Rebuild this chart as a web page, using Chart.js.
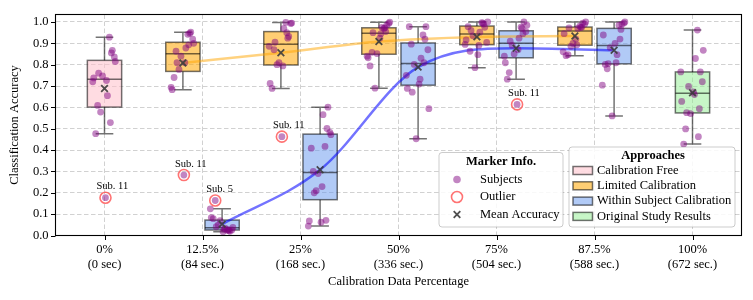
<!DOCTYPE html>
<html>
<head>
<meta charset="utf-8">
<script src="https://cdn.jsdelivr.net/npm/chart.js@4.4.1/dist/chart.umd.min.js"></script>
<style>
  body { margin: 0; background: #fff; }
  canvas { display: block; }
</style>
</head>
<body>
<canvas id="chart" width="753" height="300"></canvas>
<script>
// tick labels
const CATEGORIES = ['0%', '12.5%', '25%', '50%', '75%', '87.5%', '100%'];
const DURATIONS = ['(0 sec)', '(84 sec.)', '(168 sec.)', '(336 sec.)', '(504 sec.)', '(588 sec.)', '(672 sec.)'];
const Y_TICKS = [0, 0.1, 0.2, 0.3, 0.4, 0.5, 0.6, 0.7, 0.8, 0.9, 1.0];

// accuracy per subject (index = subject number - 1)
const CALIB_FREE = [0.929, 0.726, 0.867, 0.738, 0.609, 0.815, 0.578, 0.855, 0.72, 0.655, 0.177, 0.477, 0.836, 0.747, 0.529, 0.76];

const LIMITED_125 = [0.942, 0.809, 0.952, 0.683, 0.863, 0.90, 0.778, 0.947, 0.694, 0.878, 0.283, 0.74, 0.92, 0.84, 0.893, 0.809];
const LIMITED_25 = [0.998, 0.794, 0.932, 0.712, 0.87, 0.995, 0.80, 0.924, 0.886, 0.97, 0.463, 0.689, 0.993, 0.81, 0.95, 0.905];
const LIMITED_50 = [0.97, 0.945, 0.985, 0.832, 0.858, 0.999, 0.69, 0.955, 0.84, 0.975, 0.924, 0.794, 0.993, 0.852, 0.972, 0.95];
const LIMITED_75 = [0.997, 0.89, 0.975, 0.916, 0.863, 1.0, 0.935, 0.99, 0.895, 0.952, 0.847, 0.978, 0.904, 0.786, 0.995, 0.96];
const LIMITED_875 = [0.98, 0.893, 0.995, 0.945, 0.847, 1.0, 0.886, 0.975, 0.86, 0.97, 0.92, 0.842, 0.99, 0.9, 0.975, 0.972];

const WITHIN_125 = [0.025, 0.03, 0.02, 0.084, 0.164, 0.038, 0.05, 0.022, 0.125, 0.035, 0.018, 0.079, 0.026, 0.07, 0.028, 0.041];
const WITHIN_25 = [0.417, 0.229, 0.601, 0.068, 0.30, 0.472, 0.21, 0.501, 0.044, 0.566, 0.062, 0.409, 0.483, 0.29, 0.071, 0.20];
const WITHIN_50 = [0.939, 0.732, 0.978, 0.689, 0.896, 0.594, 0.801, 0.919, 0.75, 0.83, 0.709, 0.978, 0.87, 0.453, 0.809, 0.671];
const WITHIN_75 = [0.976, 0.87, 1.0, 0.809, 0.763, 0.985, 0.89, 0.945, 0.84, 0.924, 0.614, 0.732, 0.955, 0.85, 0.97, 0.91];
const WITHIN_875 = [0.985, 0.809, 0.99, 0.939, 0.781, 1.0, 0.88, 0.965, 0.704, 0.847, 0.9, 0.801, 0.995, 0.56, 0.92, 0.805];

const ORIGINAL = [0.962, 0.66, 0.766, 0.628, 0.499, 0.867, 0.698, 0.594, 0.766, 0.829, 0.672, 0.428, 0.72, 0.571, 0.463, 0.575];

const LIMITED = [LIMITED_125, LIMITED_25, LIMITED_50, LIMITED_75, LIMITED_875];
const WITHIN = [WITHIN_125, WITHIN_25, WITHIN_50, WITHIN_75, WITHIN_875];
const SPLIT_CATS = [1, 2, 3, 4, 5];

// horizontal jitter of the subject dots (x units)
const JITTER = [0.05, 0.02, 0.08, -0.11, -0.07, 0.11, -0.04, 0.07, -0.12, 0.03, 0.01, -0.09, 0.10, -0.02, 0.06, -0.06];

const FONT = '"Liberation Serif", "DejaVu Serif", serif';
const EDGE = 'rgba(0,0,0,0.55)';
const SUBJECT_COLOR = 'rgba(128,0,128,0.48)';
const OUTLIER_COLOR = 'rgba(255,80,80,0.8)';
const MEAN_COLOR = 'rgba(60,60,60,0.9)';

const APPROACHES = [
    { name: 'Calibration Free', fill: 'rgba(255,192,203,0.55)' },
    { name: 'Limited Calibration', fill: 'rgba(255,165,0,0.55)' },
    { name: 'Within Subject Calibration', fill: 'rgba(100,149,237,0.5)' },
    { name: 'Original Study Results', fill: 'rgba(144,238,144,0.5)' }
];

const quantile = (s, p) => {
    const pos = (s.length - 1) * p;
    const lo = Math.floor(pos);
    const hi = Math.ceil(pos);
    return s[lo] + (s[hi] - s[lo]) * (pos - lo);
};

const stats = (vals) => {
    const s = [...vals].sort((a, b) => a - b);
    const q1 = quantile(s, 0.25), med = quantile(s, 0.5), q3 = quantile(s, 0.75);
    const iqr = q3 - q1;
    const inside = s.filter(v => v >= q1 - 1.5 * iqr && v <= q3 + 1.5 * iqr);
    return {
        q1, med, q3,
        lo: inside[0],
        hi: inside[inside.length - 1],
        mean: vals.reduce((a, b) => a + b, 0) / vals.length
    };
};

const boxes = [
    { cat: 0, off: 0, vals: CALIB_FREE, fill: APPROACHES[0].fill },
    ...LIMITED.map((v, i) => ({ cat: SPLIT_CATS[i], off: -0.2, vals: v, fill: APPROACHES[1].fill })),
    ...WITHIN.map((v, i) => ({ cat: SPLIT_CATS[i], off: 0.2, vals: v, fill: APPROACHES[2].fill })),
    { cat: 6, off: 0, vals: ORIGINAL, fill: APPROACHES[3].fill }
].map(b => Object.assign(b, stats(b.vals)));

let subjects = [];
let outliers = [];
let means = [];
boxes.forEach(b => {
    const x0 = b.cat + b.off;
    b.vals.forEach((v, i) => {
        subjects.push({ x: x0 + JITTER[i], y: v });
        if (v < b.lo || v > b.hi) {
            outliers.push({ x: x0 + JITTER[i], y: v, label: 'Sub. ' + (i + 1) });
        }
    });
    means.push({ x: x0, y: b.mean });
});

const limitedLine = boxes.filter(b => b.off < 0).map(b => ({ x: b.cat + b.off, y: b.mean }));
const withinLine = boxes.filter(b => b.off > 0).map(b => ({ x: b.cat + b.off, y: b.mean }));

// box + whisker drawing under the datasets
const boxPlugin = {
    id: 'boxes',
    beforeDatasetsDraw(chart) {
        const { ctx, scales: { x, y } } = chart;
        ctx.save();
        ctx.strokeStyle = EDGE;
        ctx.lineWidth = 1.5;
        boxes.forEach(b => {
            const cx = x.getPixelForValue(b.cat + b.off);
            const half = x.getPixelForValue(0.175) - x.getPixelForValue(0);
            const cap = x.getPixelForValue(0.09) - x.getPixelForValue(0);
            const yq1 = y.getPixelForValue(b.q1), yq3 = y.getPixelForValue(b.q3);
            const ylo = y.getPixelForValue(b.lo), yhi = y.getPixelForValue(b.hi);
            ctx.beginPath();
            ctx.moveTo(cx, yq1); ctx.lineTo(cx, ylo);
            ctx.moveTo(cx, yq3); ctx.lineTo(cx, yhi);
            ctx.moveTo(cx - cap, ylo); ctx.lineTo(cx + cap, ylo);
            ctx.moveTo(cx - cap, yhi); ctx.lineTo(cx + cap, yhi);
            ctx.stroke();
            ctx.fillStyle = b.fill;
            ctx.fillRect(cx - half, yq3, half * 2, yq1 - yq3);
            ctx.strokeRect(cx - half, yq3, half * 2, yq1 - yq3);
            const ym = y.getPixelForValue(b.med);
            ctx.beginPath();
            ctx.moveTo(cx - half, ym); ctx.lineTo(cx + half, ym);
            ctx.stroke();
        });
        ctx.restore();
    }
};

const drawCross = (ctx, px, py, r) => {
    ctx.beginPath();
    ctx.moveTo(px - r, py - r); ctx.lineTo(px + r, py + r);
    ctx.moveTo(px - r, py + r); ctx.lineTo(px + r, py - r);
    ctx.stroke();
};

const roundBox = (ctx, x0, y0, w, h) => {
    ctx.beginPath();
    ctx.roundRect(x0, y0, w, h, 3);
    ctx.fillStyle = 'rgba(255,255,255,0.85)';
    ctx.fill();
    ctx.strokeStyle = 'rgba(0,0,0,0.2)';
    ctx.lineWidth = 1;
    ctx.stroke();
};

// frame, ticks, titles, labels, legends
const decoPlugin = {
    id: 'deco',
    afterDraw(chart) {
        const { ctx, chartArea: a, scales: { x, y } } = chart;
        ctx.save();
        // outlier labels
        ctx.fillStyle = '#000';
        ctx.font = '10.5px ' + FONT;
        ctx.textAlign = 'left';
        ctx.textBaseline = 'middle';
        outliers.forEach(o => {
            ctx.fillText(o.label, x.getPixelForValue(o.x) - 9, y.getPixelForValue(o.y) - 11);
        });

        // frame
        ctx.strokeStyle = '#000';
        ctx.lineWidth = 1.1;
        ctx.strokeRect(a.left, a.top, a.right - a.left, a.bottom - a.top);
        ctx.lineWidth = 1;
        ctx.beginPath();
        Y_TICKS.forEach(v => {
            const py = Math.round(y.getPixelForValue(v)) + 0.5;
            ctx.moveTo(a.left - 4.5, py); ctx.lineTo(a.left, py);
        });
        CATEGORIES.forEach((c, i) => {
            const px = Math.round(x.getPixelForValue(i)) + 0.5;
            ctx.moveTo(px, a.bottom); ctx.lineTo(px, a.bottom + 4.5);
        });
        ctx.stroke();

        // axis titles
        ctx.font = '12.5px ' + FONT;
        ctx.textAlign = 'center';
        ctx.fillText('Calibration Data Percentage', (a.left + a.right) / 2, 282);
        ctx.save();
        ctx.translate(15, (a.top + a.bottom) / 2);
        ctx.rotate(-Math.PI / 2);
        ctx.fillText('Classification Accuracy', 0, 0);
        ctx.restore();

        // legend: markers
        roundBox(ctx, 439, 152.5, 124, 74.5);
        ctx.fillStyle = '#000';
        ctx.font = 'bold 12.5px ' + FONT;
        ctx.textAlign = 'center';
        ctx.fillText('Marker Info.', 501, 162);
        ctx.font = '12.5px ' + FONT;
        ctx.textAlign = 'left';
        const mx = 457;
        ctx.fillText('Subjects', 480, 179.5);
        ctx.fillText('Outlier', 480, 197);
        ctx.fillText('Mean Accuracy', 480, 214.5);
        ctx.fillStyle = SUBJECT_COLOR;
        ctx.beginPath(); ctx.arc(mx, 179.5, 3.8, 0, Math.PI * 2); ctx.fill();
        ctx.strokeStyle = OUTLIER_COLOR;
        ctx.lineWidth = 1.6;
        ctx.beginPath(); ctx.arc(mx, 197, 5.5, 0, Math.PI * 2); ctx.stroke();
        ctx.strokeStyle = MEAN_COLOR;
        ctx.lineWidth = 1.8;
        drawCross(ctx, mx, 214.5, 3.3);

        // legend: approaches
        roundBox(ctx, 569, 147, 166, 80);
        ctx.fillStyle = '#000';
        ctx.font = 'bold 12.5px ' + FONT;
        ctx.textAlign = 'center';
        ctx.fillText('Approaches', 653, 155.5);
        ctx.font = '12.5px ' + FONT;
        ctx.textAlign = 'left';
        APPROACHES.forEach((ap, i) => {
            const ry = 170.5 + i * 15.3;
            ctx.fillStyle = ap.fill;
            ctx.fillRect(573, ry - 4, 19.5, 8);
            ctx.strokeStyle = EDGE;
            ctx.lineWidth = 1.5;
            ctx.strokeRect(573, ry - 4, 19.5, 8);
            ctx.fillStyle = '#000';
            ctx.fillText(ap.name, 597, ry);
        });
        ctx.restore();
    }
};

Chart.defaults.font.family = FONT;
Chart.defaults.font.size = 12.5;
Chart.defaults.color = '#000';

new Chart(document.getElementById('chart'), {
    type: 'scatter',
    data: {
        datasets: [
            {
                label: 'Mean Accuracy',
                data: means,
                pointStyle: 'crossRot',
                pointRadius: 4.7,
                borderWidth: 1.8,
                borderColor: MEAN_COLOR
            },
            {
                label: 'Outlier',
                data: outliers,
                pointRadius: 5.5,
                borderWidth: 1.6,
                borderColor: OUTLIER_COLOR,
                backgroundColor: 'rgba(0,0,0,0)'
            },
            {
                label: 'Subjects',
                data: subjects,
                pointRadius: 3.4,
                borderWidth: 0,
                backgroundColor: SUBJECT_COLOR
            },
            {
                label: 'Limited mean',
                data: limitedLine,
                showLine: true,
                cubicInterpolationMode: 'monotone',
                pointRadius: 0,
                borderWidth: 2.5,
                borderColor: 'rgba(255,165,0,0.5)'
            },
            {
                label: 'Within mean',
                data: withinLine,
                showLine: true,
                cubicInterpolationMode: 'monotone',
                pointRadius: 0,
                borderWidth: 2.5,
                borderColor: 'rgba(0,0,255,0.55)'
            }
        ]
    },
    options: {
        responsive: false,
        animation: false,
        events: [],
        layout: { padding: { top: 11, right: 11.5, left: 0, bottom: 0 } },
        plugins: {
            legend: { display: false },
            tooltip: { enabled: false }
        },
        scales: {
            x: {
                type: 'linear',
                min: -0.5,
                max: 6.5,
                afterBuildTicks: (s) => { s.ticks = CATEGORIES.map((c, i) => ({ value: i })); },
                afterFit: (s) => { s.height = 64.5; },
                ticks: {
                    callback: (v) => [CATEGORIES[v], DURATIONS[v]],
                    padding: 7,
                    maxRotation: 0,
                    autoSkip: false
                },
                grid: { color: 'rgba(0,0,0,0.18)', lineWidth: 1, drawTicks: false },
                border: { display: false, dash: [4.5, 2.5] }
            },
            y: {
                min: 0,
                max: 1.035,
                afterBuildTicks: (s) => { s.ticks = Y_TICKS.map(v => ({ value: v })); },
                afterFit: (s) => { s.width = 55.5; },
                ticks: {
                    callback: (v) => v.toFixed(1),
                    padding: 7
                },
                grid: { color: 'rgba(0,0,0,0.18)', lineWidth: 1, drawTicks: false },
                border: { display: false, dash: [4.5, 2.5] }
            }
        }
    },
    plugins: [boxPlugin, decoPlugin]
});
</script>
</body>
</html>
